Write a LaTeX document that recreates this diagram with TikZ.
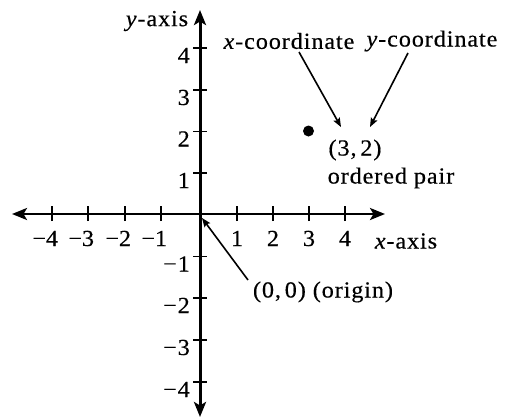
\documentclass[tikz,border=0pt]{standalone}
\usepackage{fontspec}
\setmainfont{Liberation Serif}[FakeStretch=1.05,LetterSpace=4,FakeBold=0.4]
\usetikzlibrary{arrows.meta}
\begin{document}
\begin{tikzpicture}[x=1pt,y=-1pt,
  font=\fontsize{23}{25}\selectfont,
  axis/.style={line width=2.6pt,{Stealth[length=15pt,width=12pt,inset=3.5pt]}-{Stealth[length=15pt,width=12pt,inset=3.5pt]}},
  tick/.style={line width=1.2pt},
  pointer/.style={line width=1.6pt,-{Stealth[length=9pt,width=7pt,inset=1.5pt]}},
  lbl/.style={inner sep=0pt},
  num/.style={inner sep=0pt,text height=15pt,text depth=0pt},
]
\useasboundingbox (0,0) rectangle (505,418);
% axes
\coordinate (xl) at (12,214);
\coordinate (xr) at (385,214);
\coordinate (yt) at (200,10);
\coordinate (yb) at (200,417);
\draw[axis] (xl) -- (xr);
\draw[axis,line width=3pt] (yb) -- (yt);
% x ticks
\foreach \i/\p in {a/52,b/88,c/125,d/161,e/237,f/273,g/309,h/345}{
  \coordinate (xt\i) at (\p,214);
  \draw[tick] ([yshift=-7pt]xt\i) -- ([yshift=8pt]xt\i);
}
\foreach \i/\p/\t in {a/52/4,b/88/3,c/125/2,d/161/1}{
  \node[num] (xn\i) at (\p,238.5) {\llap{\textminus}\t};
}
\foreach \i/\p/\t in {e/237/1,f/273/2,g/309/3,h/345/4}{
  \node[num] (xn\i) at (\p,238.5) {\t};
}
% y ticks
\foreach \i/\p/\t in {a/48/4,b/90/3,c/131.5/2,d/173/1,e/256.5/\textminus1,f/298/\textminus2,g/340/\textminus3,h/382/\textminus4}{
  \coordinate (ytk\i) at (200,\p);
  \draw[tick] ([xshift=-7pt]ytk\i) -- ([xshift=7pt]ytk\i);
  \node[num,anchor=east] (yn\i) at (190,\p+7.5) {\t};
}
% axis labels
\node[lbl] (ylab) at (157,21) {\textit{y}-axis};
\node[lbl] (xlab) at (406,241) {\textit{x}-axis};
% point
\node[circle,fill,inner sep=0pt,minimum size=11pt] (pt) at (308.5,131) {};
\node[lbl] (pair) at (355,150) {(3,\,2)};
\node[lbl] (op) at (391,178) {ordered pair};
\node[lbl] (xc) at (289,41) {\textit{x}-coordinate};
\node[lbl] (yc) at (432,41) {\textit{y}-coordinate};
\coordinate (a1s) at (299,52);
\coordinate (a1e) at (341,127);
\coordinate (a2s) at (408,53);
\coordinate (a2e) at (370,127);
\draw[pointer] (a1s) -- (a1e);
\draw[pointer] (a2s) -- (a2e);
% origin
\node[lbl] (orig) at (323,292) {(0,\,0) (origin)};
\coordinate (os) at (248,280);
\coordinate (oe) at (202,218);
\draw[pointer] (os) -- (oe);
\end{tikzpicture}
\end{document}
